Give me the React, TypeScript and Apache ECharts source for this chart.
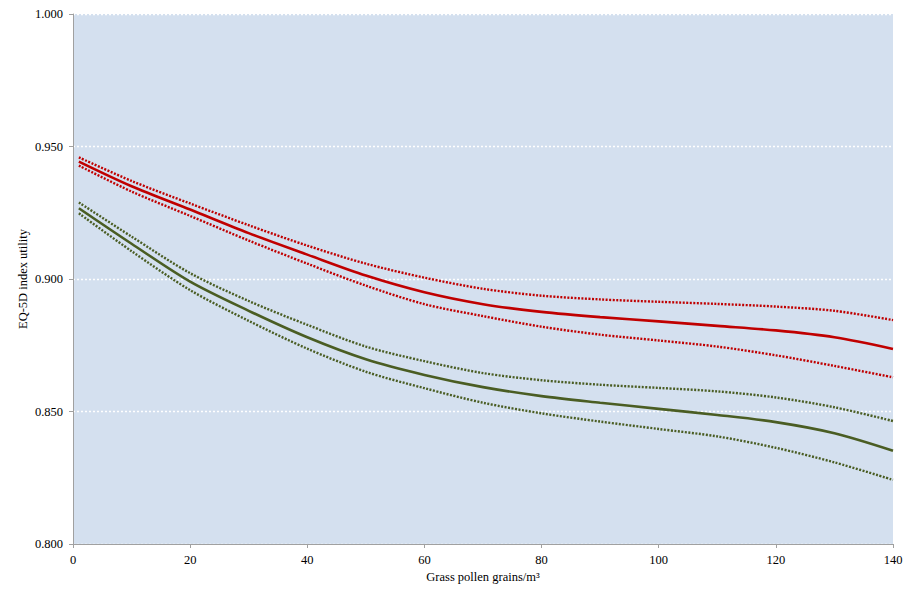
import React, { useEffect, useRef } from "react";
import * as echarts from "echarts";

const xValues = [1, 10, 20, 30, 40, 50, 60, 70, 80, 90, 100, 110, 120, 130, 140];
const redMain = [0.9443, 0.935, 0.9262, 0.9173, 0.9092, 0.9013, 0.895, 0.8905, 0.8876, 0.8856, 0.884, 0.8823, 0.8806, 0.878, 0.8736];
const redUpper = [0.9459, 0.937, 0.9285, 0.9203, 0.9126, 0.9058, 0.9005, 0.8963, 0.8937, 0.8923, 0.8914, 0.8906, 0.8896, 0.888, 0.8845];
const redLower = [0.9428, 0.933, 0.9238, 0.9145, 0.9058, 0.8975, 0.8905, 0.886, 0.882, 0.879, 0.8768, 0.8745, 0.8712, 0.8672, 0.8629];
const greenMain = [0.9267, 0.9133, 0.899, 0.888, 0.878, 0.8697, 0.8638, 0.8592, 0.8558, 0.8533, 0.851, 0.8487, 0.846, 0.8418, 0.8352];
const greenUpper = [0.9289, 0.916, 0.9022, 0.8917, 0.8827, 0.8745, 0.869, 0.8645, 0.8618, 0.8601, 0.8589, 0.8576, 0.8553, 0.8516, 0.8464];
const greenLower = [0.9248, 0.9105, 0.8958, 0.8842, 0.8737, 0.865, 0.8588, 0.8533, 0.8493, 0.8462, 0.8434, 0.8406, 0.8363, 0.8308, 0.8242];

const xAxisTitle = "Grass pollen grains/m³";
const yAxisTitle = "EQ-5D index utility";

const RED = "#C00000";
const GREEN = "#4A5D23";
const FONT = "'Liberation Serif', 'Times New Roman', serif";

function pairs(ys: number[]) {
  return xValues.map((x, i) => [x, ys[i]]);
}

export default function App() {
  const ref = useRef<HTMLDivElement>(null);
  useEffect(() => {
    if (!ref.current) return;
    const chart = echarts.init(ref.current, undefined, { renderer: "svg" });
    const solid = (name: string, ys: number[], color: string) => ({
      name,
      type: "line",
      data: pairs(ys),
      smooth: 0.3,
      showSymbol: false,
      symbol: "none",
      lineStyle: { color, width: 2.6 },
      z: 3,
    });
    const dotted = (name: string, ys: number[], color: string) => ({
      name,
      type: "line",
      data: pairs(ys),
      smooth: 0.3,
      showSymbol: false,
      symbol: "none",
      lineStyle: { color, width: 2.4, type: [2, 1.5] },
      z: 2,
    });
    chart.setOption({
      animation: false,
      backgroundColor: "#ffffff",
      grid: {
        left: 73,
        right: 23,
        top: 14,
        bottom: 55,
        show: true,
        backgroundColor: "#D4E0EF",
        borderWidth: 0,
      },
      xAxis: {
        type: "value",
        min: 0,
        max: 140,
        interval: 20,
        name: xAxisTitle,
        nameLocation: "middle",
        nameGap: 26,
        nameMoveOverlap: false,
        nameTextStyle: { fontFamily: FONT, fontSize: 12.5, color: "#000" },
        axisLine: { show: true, lineStyle: { color: "#A0A0A0", width: 1 } },
        axisTick: { show: true, inside: false, length: 4, lineStyle: { color: "#A0A0A0" } },
        axisLabel: { fontFamily: FONT, fontSize: 12.5, color: "#000", margin: 9 },
        splitLine: { show: false },
      },
      yAxis: {
        type: "value",
        min: 0.8,
        max: 1.0,
        interval: 0.05,
        name: yAxisTitle,
        nameLocation: "middle",
        nameGap: 44,
        nameMoveOverlap: false,
        nameTextStyle: { fontFamily: FONT, fontSize: 12.5, color: "#000" },
        axisLine: { show: true, lineStyle: { color: "#A0A0A0", width: 1 } },
        axisTick: { show: true, inside: false, length: 4, lineStyle: { color: "#A0A0A0" } },
        axisLabel: {
          fontFamily: FONT,
          fontSize: 12.5,
          color: "#000",
          margin: 10,
          formatter: (v: number) => v.toFixed(3),
        },
        splitLine: {
          show: true,
          lineStyle: { color: "#ffffff", width: 1.3, type: [2, 2] },
        },
      },
      series: [
        dotted("Red upper", redUpper, RED),
        dotted("Red lower", redLower, RED),
        solid("Red", redMain, RED),
        dotted("Green upper", greenUpper, GREEN),
        dotted("Green lower", greenLower, GREEN),
        solid("Green", greenMain, GREEN),
      ],
    });
    return () => chart.dispose();
  }, []);
  return (
    <div
      ref={ref}
      style={{ position: "fixed", left: 0, top: 0, width: 916, height: 599 }}
    />
  );
}
